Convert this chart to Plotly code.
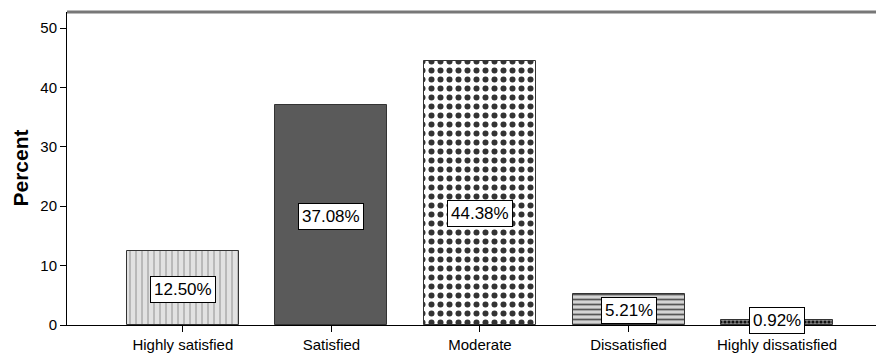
import plotly.graph_objects as go

categories = ["Highly satisfied", "Satisfied", "Moderate", "Dissatisfied", "Highly dissatisfied"]
percent = [12.50, 37.08, 44.38, 5.21, 0.92]
label_text = ["12.50%", "37.08%", "44.38%", "5.21%", "0.92%"]
label_y = [5.9, 18.3, 18.7, 2.4, 0.7]
y_ticks = [0, 10, 20, 30, 40, 50]

bg_colors = ["#e2e2e2", "#5a5a5a", "#ffffff", "#d4d4d4", "#8a8a8a"]
fg_colors = ["#888888", "#5a5a5a", "#333333", "#555555", "#111111"]
shapes_p = ["|", "", ".", "-", "."]
sizes_p = [6, 8, 9, 5, 4]
solid_p = [0.15, 0.3, 0.35, 0.35, 0.5]

xs = list(range(len(categories)))
fig = go.Figure()
for i in xs:
    fig.add_trace(go.Bar(
        x=[xs[i]], y=[percent[i]], width=0.754,
        marker=dict(
            color=bg_colors[i],
            line=dict(color="#333333", width=1),
            pattern=dict(shape=shapes_p[i], fgcolor=fg_colors[i], fgopacity=1,
                         size=sizes_p[i], solidity=solid_p[i], fillmode="overlay"),
        ),
        hoverinfo="skip",
    ))

for x, y, t in zip(xs, label_y, label_text):
    fig.add_annotation(x=x, y=y, text=t, showarrow=False,
                       font=dict(family="Liberation Sans, Arial", size=17, color="#000000"),
                       bgcolor="#ffffff", bordercolor="#000000", borderwidth=1, borderpad=3)

fig.add_annotation(xref="paper", yref="paper", x=-0.0575, y=0.5, text="<b>Percent</b>",
                   textangle=-90, showarrow=False, xanchor="center", yanchor="middle",
                   font=dict(family="Liberation Sans, Arial", size=21, color="#000000"))

fig.add_shape(type="line", xref="paper", yref="paper", x0=0, x1=1, y0=1, y1=1,
              line=dict(color="#777777", width=3))

fig.update_layout(
    width=884, height=358,
    margin=dict(l=59, r=8, t=4, b=41),
    paper_bgcolor="#ffffff", plot_bgcolor="#ffffff",
    showlegend=False, bargap=0, barmode="overlay",
    font=dict(family="Liberation Sans, Arial", size=15, color="#000000"),
    xaxis=dict(range=[-0.78, 4.72], tickmode="array", tickvals=xs, ticktext=categories,
               ticks="outside", ticklen=6, tickcolor="#000000", showgrid=False,
               showline=True, linecolor="#000000", linewidth=1, zeroline=False,
               tickfont=dict(size=15), automargin=False),
    yaxis=dict(range=[0, 52.7], tickmode="array", tickvals=y_ticks,
               ticks="outside", ticklen=6, tickcolor="#000000", showgrid=False,
               showline=True, linecolor="#000000", linewidth=1, zeroline=False,
               tickfont=dict(size=15), automargin=False),
)

fig.write_html("out.html")
